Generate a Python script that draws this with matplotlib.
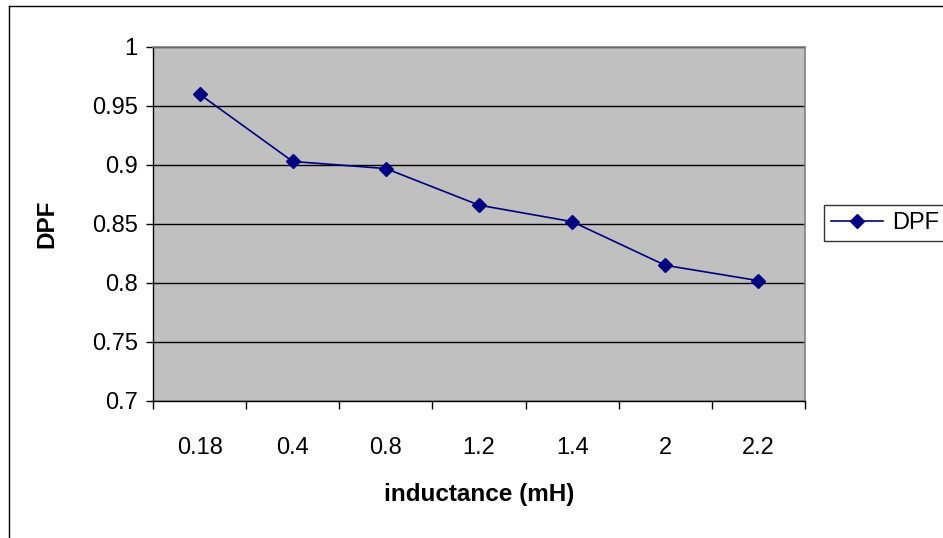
import matplotlib.pyplot as plt
from matplotlib.lines import Line2D

plt.rcParams['font.family'] = ['Liberation Sans', 'DejaVu Sans']

# data
inductance = ['0.18', '0.4', '0.8', '1.2', '1.4', '2', '2.2']
dpf = [0.960, 0.903, 0.897, 0.866, 0.852, 0.815, 0.802]
y_ticks = [0.7, 0.75, 0.8, 0.85, 0.9, 0.95, 1]
y_labels = ['0.7', '0.75', '0.8', '0.85', '0.9', '0.95', '1']

W, H = 943, 538
fig = plt.figure(figsize=(W / 100, H / 100), dpi=100)
ax = fig.add_axes([153 / W, 1 - 401 / H, (805 - 153) / W, (401 - 47) / H])
ax.set_facecolor('#C0C0C0')

x = list(range(len(inductance)))
ax.plot(x, dpf, color='#000080', lw=1.2, marker='D', markersize=7, label='DPF', zorder=3)

ax.set_xlim(-0.5, len(inductance) - 0.5)
ax.set_ylim(0.7, 1.0)
ax.set_yticks(y_ticks)
ax.set_yticklabels(y_labels, fontsize=17)
ax.yaxis.grid(True, color='black', lw=1)
ax.set_axisbelow(True)

# category ticks between labels, labels centred
ax.set_xticks([i - 0.5 for i in range(len(inductance) + 1)])
ax.set_xticklabels([])
ax.set_xticks(x, minor=True)
ax.set_xticklabels(inductance, minor=True, fontsize=17)
ax.tick_params(axis='x', which='major', direction='out', length=6, width=1, color='black')
ax.tick_params(axis='x', which='minor', length=0, pad=26)
ax.tick_params(axis='y', direction='out', length=5, width=1, pad=6)

for s in ['top', 'right']:
    ax.spines[s].set_color('#808080')
    ax.spines[s].set_linewidth(1.2)
for s in ['left', 'bottom']:
    ax.spines[s].set_color('black')
    ax.spines[s].set_linewidth(1)

ax.set_xlabel('inductance (mH)', fontsize=17.5, fontweight='bold', labelpad=17)
ax.set_ylabel('DPF', fontsize=17.5, fontweight='bold', labelpad=24)

leg = ax.legend(loc='center left', bbox_to_anchor=(824 / W, 1 - 223 / H),
                bbox_transform=fig.transFigure, fontsize=17, frameon=True,
                fancybox=False, edgecolor='black', handlelength=2.2,
                borderaxespad=0, borderpad=0.3, handletextpad=0.4)
leg.get_frame().set_linewidth(1)

# outer chart border (cropped on right and bottom)
fig.add_artist(Line2D([8.5 / W, 8.5 / W], [0, 1 - 5.5 / H], color='black', lw=1,
                      transform=fig.transFigure))
fig.add_artist(Line2D([8.5 / W, 1], [1 - 5.5 / H, 1 - 5.5 / H], color='black', lw=1,
                      transform=fig.transFigure))

fig.savefig('out.png', dpi=100)
